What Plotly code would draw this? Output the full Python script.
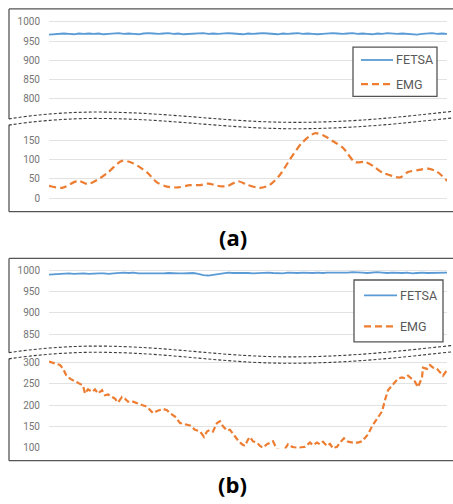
import numpy as np
import plotly.graph_objects as go

W, H = 453, 504

# ---------------- data ----------------
# FETSA (panel a), evenly spaced samples
fetsa_a = [967, 968, 969, 970, 969, 968, 970, 969, 970, 969,
           970, 968, 969, 970, 971, 969, 970, 969, 968, 970,
           971, 970, 969, 970, 971, 969, 970, 968, 969, 970,
           970, 971, 969, 970, 969, 970, 971, 970, 969, 968,
           970, 969, 970, 971, 970, 969, 968, 970, 969, 970,
           971, 969, 970, 969, 968, 969, 970, 971, 970, 969,
           970, 971, 969, 970, 969, 968, 970, 969, 971, 970,
           969, 970, 969, 968, 967, 969, 970, 971, 969, 970, 969]

# EMG (panel a)
emg_a_x = [0, 13, 29, 39, 51, 59, 73, 84, 98, 108, 118, 129, 141, 151, 159, 171,
           179, 189, 199, 211, 221, 231, 241, 253, 266, 276, 284, 294, 306, 316,
           324, 333, 343, 351, 359, 369, 379, 388, 398]
emg_a = [32, 27, 45, 37, 52, 67, 97, 91, 67, 41, 30, 28, 34, 34, 38, 31,
         32, 44, 34, 27, 35, 61, 101, 144, 169, 161, 148, 131, 94, 94,
         84, 67, 58, 54, 68, 73, 77, 69, 45]

# FETSA (panel b), evenly spaced samples
fetsa_b = [991, 992, 993, 994, 994, 993, 994, 994, 993, 994,
           994, 994, 993, 994, 995, 996, 995, 996, 994, 994,
           994, 993, 994, 994, 995, 994, 994, 994, 994, 995,
           993, 990, 989, 991, 993, 995, 996, 995, 995, 996,
           995, 994, 995, 995, 996, 995, 995, 994, 996, 995,
           995, 996, 995, 995, 996, 995, 996, 996, 995, 996,
           996, 997, 997, 996, 995, 996, 997, 996, 995, 996,
           995, 995, 996, 994, 995, 996, 995, 995, 996, 995, 996]

# EMG (panel b)
emg_b_x = [0, 6, 11, 14, 17, 21, 24, 28, 31, 34, 36, 39, 43, 46, 49, 53, 56, 59,
           63, 66, 69, 73, 76, 79, 83, 88, 93, 98, 101, 104, 108, 111, 114, 118,
           121, 126, 131, 136, 141, 146, 151, 155, 158, 161, 164, 168, 171, 174,
           178, 181, 186, 189, 193, 196, 199, 201, 204, 208, 211, 214, 218, 221,
           224, 228, 232, 236, 239, 243, 246, 251, 256, 261, 264, 268, 271, 274,
           278, 281, 284, 288, 291, 295, 299, 304, 309, 313, 316, 319, 323, 328,
           333, 336, 339, 343, 346, 349, 353, 356, 359, 363, 366, 369, 373, 374,
           378, 381, 384, 388, 391, 394, 398]
emg_b = [302, 298, 294, 286, 271, 262, 258, 254, 248, 246, 227, 237, 231, 237,
         227, 235, 223, 225, 219, 215, 206, 219, 215, 208, 209, 204, 200, 196,
         188, 181, 186, 188, 191, 188, 181, 173, 158, 155, 152, 142, 138, 125,
         138, 142, 138, 158, 162, 150, 140, 142, 127, 117, 108, 104, 119, 125,
         115, 112, 104, 100, 108, 112, 115, 96, 94, 97, 108, 102, 100, 100,
         102, 112, 106, 112, 108, 114, 104, 109, 98, 102, 112, 122, 114, 112,
         112, 115, 122, 131, 150, 169, 185, 212, 235, 246, 254, 262, 265, 263,
         269, 262, 255, 242, 265, 288, 285, 294, 288, 285, 278, 269, 282]

series_names = ["FETSA", "EMG"]
panel_labels = ["(a)", "(b)"]

x_end = 398
ticks_a_upper = [800, 850, 900, 950, 1000]
ticks_a_lower = [0, 50, 100, 150]
ticks_b_upper = [850, 900, 950, 1000]
ticks_b_lower = [100, 150, 200, 250, 300]

BLUE = "#5B9BD5"
ORANGE = "#ED7D31"
FRAME = "#555555"
GRID = "#E2E2E2"
TICK = "#767676"
LEGTXT = "#595959"
EMG_DASH_A = "7px,4px"
EMG_DASH_B = "6px,3px"


def px(x):
    return x / W


def py(y):
    return 1 - y / H


fig = go.Figure()

fig.add_trace(go.Scatter(x=np.linspace(0, x_end, len(fetsa_a)), y=fetsa_a, mode="lines",
                         name=series_names[0], line=dict(color=BLUE, width=1.8),
                         xaxis="x", yaxis="y", showlegend=False))
fig.add_trace(go.Scatter(x=emg_a_x, y=emg_a, mode="lines", name=series_names[1],
                         line=dict(color=ORANGE, width=2.2, dash=EMG_DASH_A, shape="spline", smoothing=0.8),
                         xaxis="x", yaxis="y2", showlegend=False))
fig.add_trace(go.Scatter(x=np.linspace(0, x_end, len(fetsa_b)), y=fetsa_b, mode="lines",
                         name=series_names[0], line=dict(color=BLUE, width=1.8),
                         xaxis="x2", yaxis="y3", showlegend=False))
fig.add_trace(go.Scatter(x=emg_b_x, y=emg_b, mode="lines", name=series_names[1],
                         line=dict(color=ORANGE, width=2.2, dash=EMG_DASH_B),
                         xaxis="x2", yaxis="y4", showlegend=False))

xdom = [px(49), px(447)]
xcommon = dict(domain=xdom, range=[0, x_end], visible=False, showgrid=False, zeroline=False)
ycommon = dict(showgrid=True, gridcolor=GRID, gridwidth=1, zeroline=False, showline=False,
               ticks="", tickfont=dict(family="Roboto", size=10, color=TICK),
               ticklabelstandoff=8, tickmode="array")

fig.update_layout(
    width=W, height=H,
    margin=dict(l=0, r=0, t=0, b=0),
    paper_bgcolor="white", plot_bgcolor="white",
    xaxis=dict(**xcommon, anchor="y2"),
    xaxis2=dict(**xcommon, anchor="y4"),
    yaxis=dict(**ycommon, anchor="x", range=[780, 1003], tickvals=ticks_a_upper,
               domain=[py(104.5), py(17.1)]),
    yaxis2=dict(**ycommon, anchor="x", range=[-3, 185], tickvals=ticks_a_lower,
                domain=[py(198.9), py(125.3)]),
    yaxis3=dict(**ycommon, anchor="x2", range=[830, 1005], tickvals=ticks_b_upper,
                domain=[py(344.6), py(269.6)]),
    yaxis4=dict(**ycommon, anchor="x2", range=[98, 306], tickvals=ticks_b_lower,
                domain=[py(452.6), py(362.4)]),
    showlegend=False,
)

shapes = []


def seg(x0, y0, x1, y1, color=FRAME, width=1.3, dash="solid"):
    shapes.append(dict(type="line", xref="paper", yref="paper",
                       x0=px(x0), y0=py(y0), x1=px(x1), y1=py(y1),
                       line=dict(color=color, width=width, dash=dash)))


def P(x, y):
    return f"{px(x):.5f},{py(y):.5f}"


def wave(y_left, y_peak, y_trough, y_right, x_trough=300):
    return (f"M {P(9, y_left)} C {P(35, y_peak + 2.5)} {P(70, y_peak)} {P(95, y_peak)} "
            f"C {P(170, y_peak)} {P(x_trough - 70, y_trough)} {P(x_trough, y_trough)} "
            f"C {P(x_trough + 70, y_trough)} {P(420, y_right + 3.5)} {P(456, y_right)}")


# panel (a) frame
seg(9, 5, 456, 5)
seg(9, 211.5, 456, 211.5)
seg(9, 5, 9, 117)
seg(9, 123, 9, 211.5)
# panel (b) frame
seg(9, 259, 456, 259)
seg(9, 465, 456, 465)
seg(9, 259, 9, 355)
seg(9, 361, 9, 465)

wl = dict(color="#3a3a3a", width=1.1, dash="3px,2px")
for (a, b, c, d, t) in [(117, 110, 120.5, 109, 295), (123.3, 116.5, 127, 115.7, 295),
                         (355, 348.3, 359.3, 347.3, 290), (361.3, 354.6, 365.8, 353.8, 290)]:
    shapes.append(dict(type="path", xref="paper", yref="paper", path=wave(a, b, c, d, t), line=wl))

# legends (box, line samples, labels)
legend_specs = [
    (353, 437, 44, 94, 361, 393, 57, 81.5, 393.5, EMG_DASH_A),
    (354, 443, 281, 344, 364, 397, 296.7, 328.3, 397.5, EMG_DASH_A),
]
for (bx0, bx1, by0, by1, sx0, sx1, yf, ye, tx, dsh) in legend_specs:
    shapes.append(dict(type="rect", xref="paper", yref="paper",
                       x0=px(bx0), x1=px(bx1), y0=py(by1), y1=py(by0),
                       fillcolor="white", line=dict(color=FRAME, width=1.3)))
    seg(sx0, yf, sx1, yf, color=BLUE, width=1.8)
    seg(sx0, ye, sx1, ye, color=ORANGE, width=2.2, dash=dsh)
    for name, yy in zip(series_names, [yf, ye]):
        fig.add_annotation(text=name, x=px(tx), y=py(yy), xref="paper", yref="paper",
                           xanchor="left", yanchor="middle", showarrow=False,
                           font=dict(family="Roboto", size=12.5, color=LEGTXT))

fig.update_layout(shapes=shapes)

for lab, yy in zip(panel_labels, [237, 489]):
    fig.add_annotation(text=f"<b>{lab}</b>", x=px(233), y=py(yy), xref="paper", yref="paper",
                       xanchor="center", yanchor="middle",
                       showarrow=False, font=dict(family="Open Sans", size=22, color="black"))

fig.write_html("out.html", config={"displayModeBar": False},
               post_script="document.body.style.margin='0';document.body.style.overflow='hidden';")
